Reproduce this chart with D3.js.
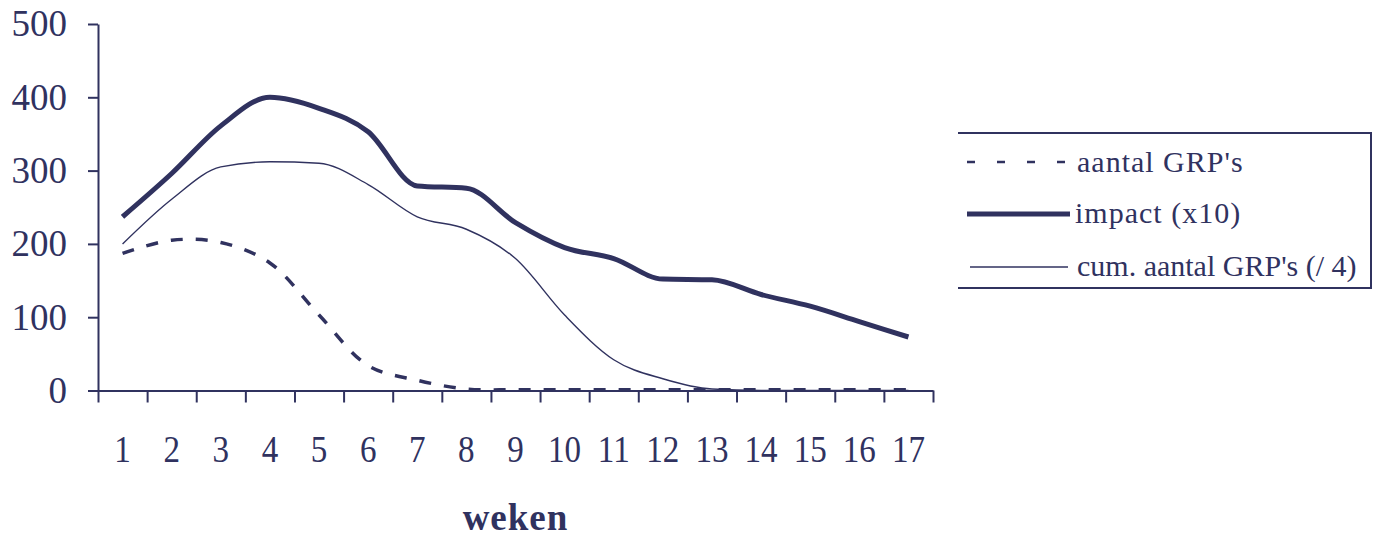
<!DOCTYPE html>
<html>
<head>
<meta charset="utf-8">
<script src="https://cdn.jsdelivr.net/npm/d3@7"></script>
<style>
  html, body { margin: 0; padding: 0; background: #ffffff; }
  svg { display: block; }
  text { font-family: "Liberation Serif", "Times New Roman", serif; fill: #30325f; }
</style>
</head>
<body>
<svg id="chart" width="1373" height="537"></svg>
<script>
// Weeks on the horizontal axis
const weeks = [1, 2, 3, 4, 5, 6, 7, 8, 9, 10, 11, 12, 13, 14, 15, 16, 17];

// Series values per week
const aantalGRPs = [187, 205, 202, 174, 103, 34, 14, 2, 1, 1, 1, 1, 1, 1, 1, 1, 1];
const impactX10 = [237, 296, 361, 400, 385, 353, 279, 276, 229, 195, 180, 152, 151, 131, 115, 94, 73];
const cumAantalDiv4 = [200, 261, 305, 312, 310, 281, 237, 220, 180, 103, 42, 16, 2, 0, 0, 0, 0];

// Axis ticks and texts
const yTicks = [0, 100, 200, 300, 400, 500];
const legendLabels = ["aantal GRP's", "impact (x10)", "cum. aantal GRP's (/ 4)"];
const xTitle = "weken";

const ink = "#30325f";
const svg = d3.select("#chart");

const plotLeft = 98, plotRight = 933, plotTop = 24, plotBottom = 390.5;

const xBand = d3.scaleBand().domain(weeks).range([plotLeft, plotRight]).padding(0);
const xEdge = d3.scaleLinear().domain([0, weeks.length]).range([plotLeft, plotRight]);
const y = d3.scaleLinear().domain([0, 500]).range([plotBottom, plotTop]);
const xc = d => xBand(d) + xBand.bandwidth() / 2;

// Y axis
const gy = svg.append("g")
  .attr("transform", `translate(${plotLeft},0)`)
  .call(d3.axisLeft(y).tickValues(yTicks).tickSize(10).tickSizeOuter(0).tickPadding(21));
gy.select(".domain").attr("stroke", ink).attr("stroke-width", 2);
gy.selectAll(".tick line").attr("stroke", ink).attr("stroke-width", 2);
gy.selectAll(".tick text")
  .attr("dy", "0.32em")
  .style("font-size", "37px")
  .style("font-family", "'Liberation Serif', serif")
  .attr("fill", ink);

// X axis: tick marks between categories
const gxTicks = svg.append("g")
  .attr("transform", `translate(0,${plotBottom})`)
  .call(d3.axisBottom(xEdge).tickValues(d3.range(0, weeks.length + 1)).tickSize(12).tickSizeOuter(0).tickFormat(""));
gxTicks.select(".domain").attr("stroke", ink).attr("stroke-width", 2);
gxTicks.selectAll(".tick line").attr("stroke", ink).attr("stroke-width", 2);

// X axis: week labels centred in each category
const gxLabels = svg.append("g")
  .attr("transform", `translate(0,${plotBottom})`)
  .call(d3.axisBottom(xBand).tickSize(0).tickPadding(0));
gxLabels.select(".domain").remove();
gxLabels.selectAll(".tick text")
  .attr("y", 71.5)
  .attr("dy", 0)
  .attr("transform", "scale(0.87,1)")
  .style("font-size", "38px")
  .style("font-family", "'Liberation Serif', serif")
  .attr("fill", ink);

// X axis title
svg.append("text")
  .attr("x", (plotLeft + plotRight) / 2)
  .attr("y", 530)
  .attr("text-anchor", "middle")
  .style("font-size", "37px")
  .style("font-weight", "bold")
  .style("letter-spacing", "1px")
  .text(xTitle);

// Series lines
const makeLine = curve => d3.line()
  .x((d, i) => xc(weeks[i]))
  .y(d => y(d))
  .curve(curve);

const series = [
  { values: cumAantalDiv4, width: 1.4, dash: null, curve: d3.curveMonotoneX },
  { values: aantalGRPs, width: 3.5, dash: "12 13", curve: d3.curveCatmullRom.alpha(0.5) },
  { values: impactX10, width: 5, dash: null, curve: d3.curveMonotoneX }
];

svg.append("g").selectAll("path")
  .data(series)
  .join("path")
  .attr("d", s => makeLine(s.curve)(s.values))
  .attr("fill", "none")
  .attr("stroke", ink)
  .attr("stroke-width", s => s.width)
  .attr("stroke-dasharray", s => s.dash)
  .attr("stroke-linejoin", "round");

// Legend (open on the left side)
const legend = svg.append("g");
const lx0 = 958, lx1 = 1371, ly0 = 133, ly1 = 288;
legend.append("path")
  .attr("d", `M${lx0},${ly0}H${lx1}V${ly1}H${lx0}`)
  .attr("fill", "none")
  .attr("stroke", ink)
  .attr("stroke-width", 2);

const legendRows = [
  { label: legendLabels[0], y: 162, width: 2.5, dash: "8 22", x1: 967, x2: 1066, tx: 1077, base: 171.5, ls: 1 },
  { label: legendLabels[1], y: 214, width: 5, dash: null, x1: 967, x2: 1070, tx: 1075, base: 223, ls: 1 },
  { label: legendLabels[2], y: 267, width: 1.6, dash: null, x1: 970, x2: 1068, tx: 1077, base: 275.5, ls: 0 }
];

const rows = legend.selectAll("g.row").data(legendRows).join("g").attr("class", "row");
rows.append("line")
  .attr("x1", d => d.x1).attr("x2", d => d.x2)
  .attr("y1", d => d.y).attr("y2", d => d.y)
  .attr("stroke", ink)
  .attr("stroke-width", d => d.width)
  .attr("stroke-dasharray", d => d.dash);
rows.append("text")
  .attr("x", d => d.tx)
  .attr("y", d => d.base)
  .style("font-size", "30px")
  .style("letter-spacing", d => d.ls + "px")
  .text(d => d.label);
</script>
</body>
</html>
